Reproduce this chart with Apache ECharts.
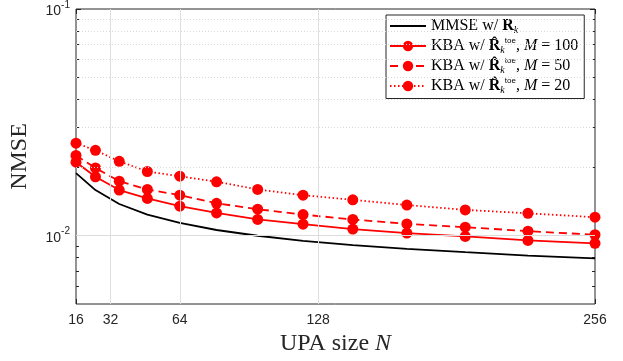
<!DOCTYPE html>
<html>
<head>
<meta charset="utf-8">
<script src="https://cdn.jsdelivr.net/npm/echarts@6/dist/echarts.min.js"></script>
<style>
  html, body { margin: 0; padding: 0; background: #fff; }
  #chart { width: 623px; height: 361px; }
</style>
</head>
<body>
<div id="chart"></div>
<script>
  // UPA 尺寸 N (4^2 ... 16^2)
  const upaSize = [16, 25, 36, 49, 64, 81, 100, 121, 144, 169, 196, 225, 256];
  const xTicks = [16, 32, 64, 128, 256];
  const yTicks = [0.01, 0.1];
  const yMinor = [0.006, 0.007, 0.008, 0.009, 0.02, 0.03, 0.04, 0.05, 0.06, 0.07, 0.08, 0.09];

  // NMSE 数值
  const nmseMmse = [0.0189, 0.0159, 0.0138, 0.0124, 0.0114, 0.0106, 0.0100, 0.0095, 0.0091, 0.00875, 0.00846, 0.00818, 0.00794];
  const nmseM100 = [0.0211, 0.0182, 0.0159, 0.0146, 0.0135, 0.0126, 0.0118, 0.01125, 0.0107, 0.01028, 0.00993, 0.00954, 0.00926];
  const nmseM50 = [0.0226, 0.0199, 0.0174, 0.0160, 0.0151, 0.0139, 0.0131, 0.0124, 0.0118, 0.01128, 0.01091, 0.01048, 0.0101];
  const nmseM20 = [0.0256, 0.0238, 0.0213, 0.0192, 0.0183, 0.0173, 0.0160, 0.0151, 0.0144, 0.01366, 0.0130, 0.01256, 0.01207];

  const seriesNames = ["MMSE", "M100", "M50", "M20"];
  const legendLabels = {
    MMSE: "{t|MMSE w/ }{b|R}{sub|k}",
    M100: "{t|KBA w/ }{b|R\u0302}{sub|k}{sup|toe}{t|, }{i|M}{t| = 100}",
    M50: "{t|KBA w/ }{b|R\u0302}{sub|k}{sup|toe}{t|, }{i|M}{t| = 50}",
    M20: "{t|KBA w/ }{b|R\u0302}{sub|k}{sup|toe}{t|, }{i|M}{t| = 20}",
  };

  const axisColor = "#262626";
  const serif = "'Liberation Serif', 'DejaVu Serif', serif";
  const sans = "'Liberation Sans', Arial, sans-serif";

  const pair = (ys) => upaSize.map((n, i) => [n, ys[i]]);

  const myChart = echarts.init(document.getElementById("chart"));

  const tickAxisY = (position, values, len, showLabel) => ({
    type: "log",
    logBase: 10,
    min: 0.005,
    max: 0.1,
    position: position,
    axisLine: { show: false },
    splitLine: { show: false },
    axisTick: { show: true, inside: true, length: len, customValues: values, lineStyle: { color: axisColor } },
    axisLabel: showLabel
      ? {
          show: true,
          customValues: values,
          margin: 6,
          formatter: (v) => "{b|10}{s|" + Math.round(Math.log10(v)) + "}",
          rich: {
            b: { fontFamily: sans, fontSize: 14, color: axisColor, verticalAlign: "bottom", lineHeight: 18 },
            s: { fontFamily: sans, fontSize: 10, color: axisColor, verticalAlign: "top", lineHeight: 18 },
          },
        }
      : { show: false },
  });

  const options = {
    animation: false,
    grid: {
      left: 76,
      right: 28,
      top: 6,
      bottom: 57,
      show: true,
      borderColor: axisColor,
      borderWidth: 1,
    },
    legend: {
      orient: "vertical",
      left: 386,
      top: 15,
      padding: [3, 6, 3, 3],
      itemGap: 1,
      itemWidth: 36,
      itemHeight: 13,
      backgroundColor: "#fff",
      borderColor: axisColor,
      borderWidth: 1,
      data: [
        // MMSE 曲线没有标记点, 图例里隐藏圆点
        { name: "MMSE", itemStyle: { color: "rgba(0,0,0,0)", borderWidth: 0 } },
        "M100",
        "M50",
        "M20",
      ],
      formatter: (name) => legendLabels[name],
      textStyle: {
        rich: {
          t: { fontFamily: serif, fontSize: 16, color: "#000", lineHeight: 19 },
          b: { fontFamily: serif, fontSize: 16, fontWeight: "bold", color: "#000", lineHeight: 19 },
          i: { fontFamily: serif, fontSize: 16, fontStyle: "italic", color: "#000", lineHeight: 19 },
          sub: { fontFamily: serif, fontSize: 10, fontStyle: "italic", color: "#000", verticalAlign: "bottom", lineHeight: 19 },
          sup: { fontFamily: sans, fontSize: 8, color: "#000", verticalAlign: "top", lineHeight: 19 },
        },
      },
    },
    xAxis: [
      {
        type: "value",
        min: 16,
        max: 256,
        position: "bottom",
        name: "{t|UPA size }{i|N}",
        nameLocation: "middle",
        nameGap: 27,
        nameTextStyle: {
          rich: {
            t: { fontFamily: serif, fontSize: 24, color: axisColor },
            i: { fontFamily: serif, fontSize: 24, fontStyle: "italic", color: axisColor },
          },
        },
        axisLine: { show: false },
        splitLine: { show: false },
        axisTick: { show: true, inside: true, length: 5, customValues: xTicks, lineStyle: { color: axisColor } },
        axisLabel: { customValues: xTicks, fontFamily: sans, fontSize: 14, color: axisColor, margin: 9 },
      },
      {
        type: "value",
        min: 16,
        max: 256,
        position: "top",
        axisLine: { show: false },
        splitLine: { show: false },
        axisTick: { show: true, inside: true, length: 5, customValues: xTicks, lineStyle: { color: axisColor } },
        axisLabel: { show: false },
      },
    ],
    yAxis: [
      Object.assign(tickAxisY("left", yTicks, 5, true), {
        name: "NMSE",
        nameLocation: "middle",
        nameGap: 44,
        nameTextStyle: { fontFamily: serif, fontSize: 24, color: axisColor },
      }),
      tickAxisY("left", yMinor, 3, false),
      tickAxisY("right", yTicks, 5, false),
      tickAxisY("right", yMinor, 3, false),
    ],
    series: [
      {
        // 网格线
        type: "line",
        name: "grid",
        data: [],
        z: 0,
        silent: true,
        markLine: {
          silent: true,
          symbol: "none",
          label: { show: false },
          animation: false,
          data: [
            ...xTicks.slice(1, -1).map((v) => ({ xAxis: v, lineStyle: { color: "#dedede", type: "solid", width: 1 } })),
            ...yTicks.slice(0, -1).map((v) => ({ yAxis: v, lineStyle: { color: "#dedede", type: "solid", width: 1 } })),
            ...yMinor.map((v) => ({ yAxis: v, lineStyle: { color: "#d8d8d8", type: [1, 2], width: 1 } })),
          ],
        },
      },
      {
        type: "line",
        name: "MMSE",
        data: pair(nmseMmse),
        symbol: "none",
        lineStyle: { color: "#000", width: 1.8 },
        itemStyle: { color: "#000" },
        z: 3,
      },
      {
        type: "line",
        name: "M100",
        data: pair(nmseM100),
        symbol: "circle",
        symbolSize: 11,
        lineStyle: { color: "#ff0000", width: 1.8, type: "solid" },
        itemStyle: { color: "#ff0000" },
        z: 4,
      },
      {
        type: "line",
        name: "M50",
        data: pair(nmseM50),
        symbol: "circle",
        symbolSize: 11,
        lineStyle: { color: "#ff0000", width: 1.8, type: [8, 5] },
        itemStyle: { color: "#ff0000" },
        z: 4,
      },
      {
        type: "line",
        name: "M20",
        data: pair(nmseM20),
        symbol: "circle",
        symbolSize: 11,
        lineStyle: { color: "#ff0000", width: 1.8, type: [1.5, 2.5] },
        itemStyle: { color: "#ff0000" },
        z: 4,
      },
    ],
  };

  myChart.setOption(options);
</script>
</body>
</html>
